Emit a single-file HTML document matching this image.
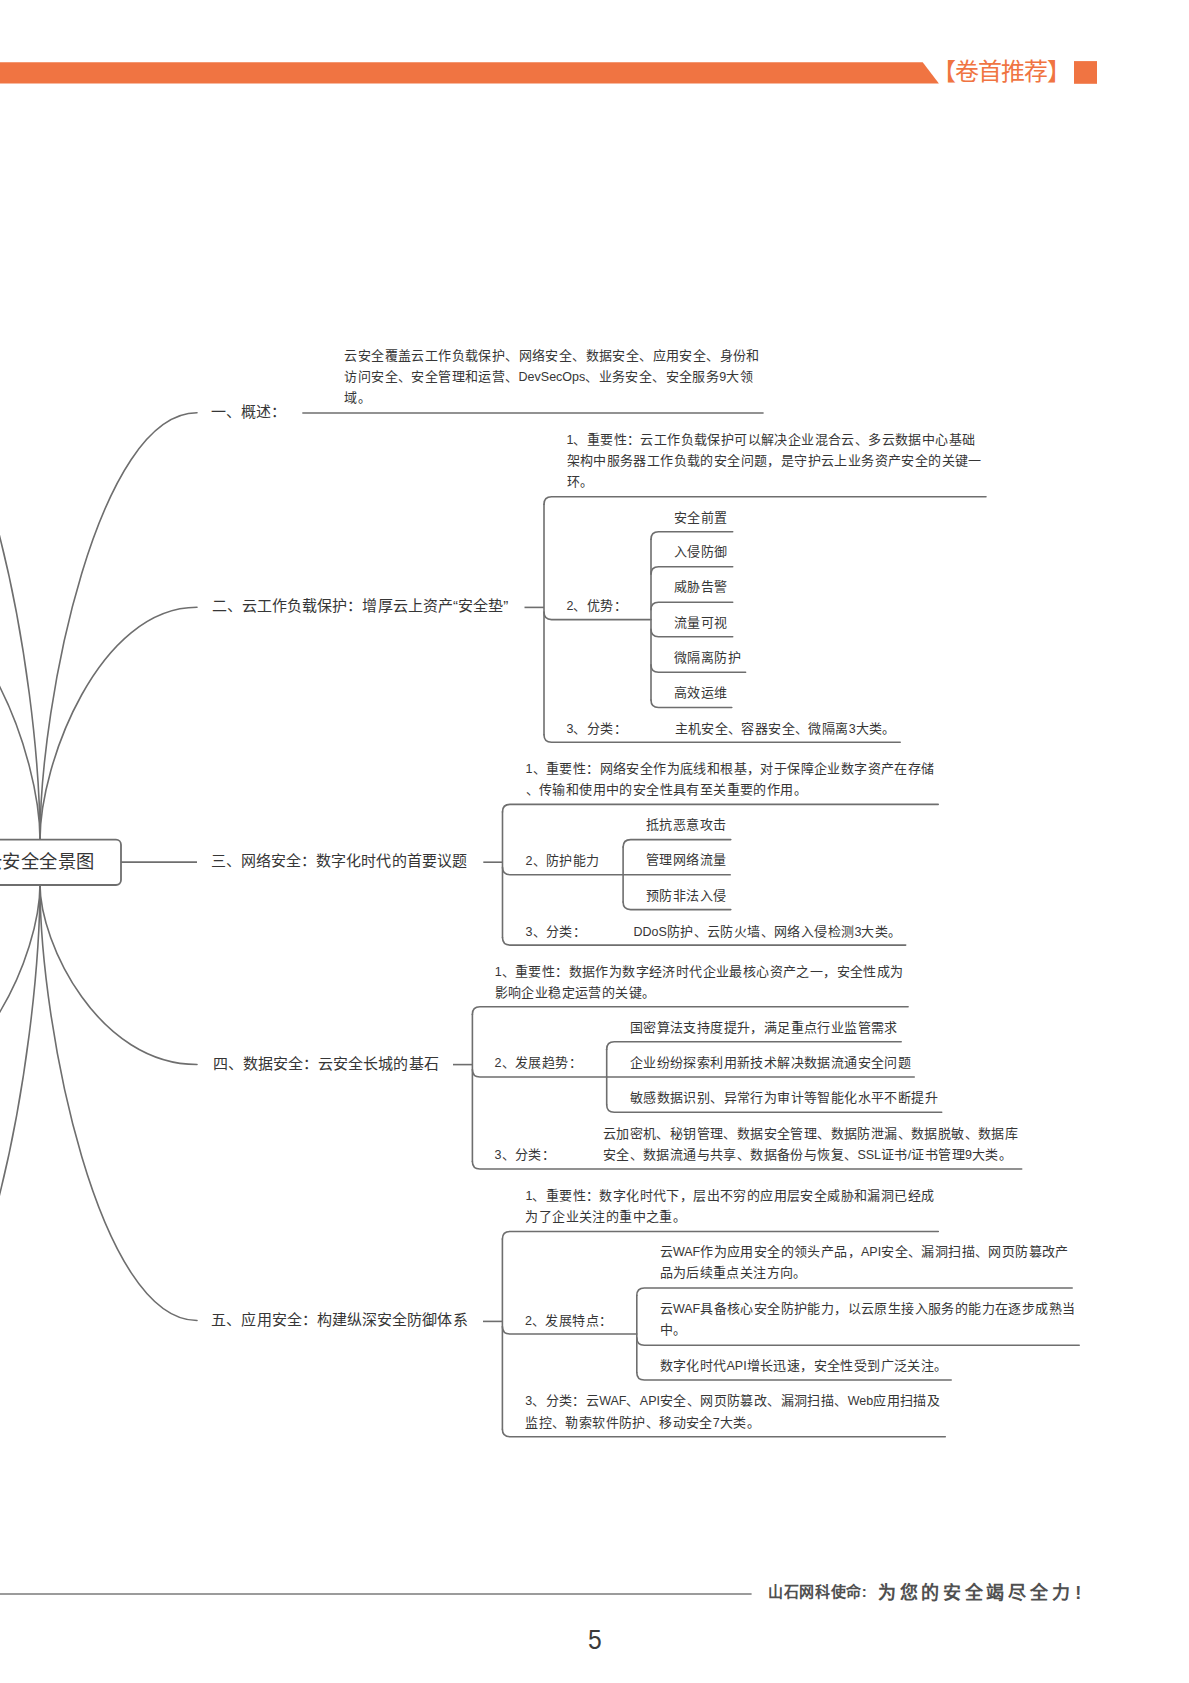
<!DOCTYPE html>
<html lang="zh-CN"><head><meta charset="utf-8"><style>
html,body{margin:0;padding:0;background:#fff;}
body{width:1189px;height:1683px;position:relative;overflow:hidden;font-family:"Liberation Sans",sans-serif;-webkit-font-smoothing:antialiased;}
svg{position:absolute;left:0;top:0;}
.t{position:absolute;white-space:nowrap;line-height:1;font-weight:500}
.l{font-size:12.5px;letter-spacing:0}
</style></head><body>
<svg width="1189" height="1683" viewBox="0 0 1189 1683">

<path d="M40,839.7 C40.0,698.8 98.9,412.8 197,412.8" fill="none" stroke="#6e6e6e" stroke-width="1.6" stroke-linecap="round" stroke-linejoin="round"/>
<path d="M40,839.7 C40.0,763.0 98.9,607.3 197,607.3" fill="none" stroke="#6e6e6e" stroke-width="1.6" stroke-linecap="round" stroke-linejoin="round"/>
<path d="M40,884.5 C40.0,943.9 98.9,1064.5 197,1064.5" fill="none" stroke="#6e6e6e" stroke-width="1.6" stroke-linecap="round" stroke-linejoin="round"/>
<path d="M40,884.5 C40.0,1028.4 98.9,1320.5 197,1320.5" fill="none" stroke="#6e6e6e" stroke-width="1.6" stroke-linecap="round" stroke-linejoin="round"/>
<path d="M40,839.7 C40.0,676.4 -18.9,345.0 -117,345" fill="none" stroke="#6e6e6e" stroke-width="1.6" stroke-linecap="round" stroke-linejoin="round"/>
<path d="M40,839.7 C40.0,757.3 -18.9,590.0 -117,590" fill="none" stroke="#6e6e6e" stroke-width="1.6" stroke-linecap="round" stroke-linejoin="round"/>
<path d="M40,884.5 C40.0,953.3 -18.9,1093.0 -117,1093" fill="none" stroke="#6e6e6e" stroke-width="1.6" stroke-linecap="round" stroke-linejoin="round"/>
<path d="M40,884.5 C40.0,1051.3 -18.9,1390.0 -117,1390" fill="none" stroke="#6e6e6e" stroke-width="1.6" stroke-linecap="round" stroke-linejoin="round"/>
<line x1="302.3" y1="413" x2="763.6" y2="413" stroke="#6e6e6e" stroke-width="1.6"/>
<line x1="524.5" y1="607.4" x2="544" y2="607.4" stroke="#6e6e6e" stroke-width="1.6"/>
<path d="M544,504.3 L544,734.7" fill="none" stroke="#6e6e6e" stroke-width="1.6" stroke-linecap="round" stroke-linejoin="round"/>
<path d="M544,504.3 Q544,496.8 551.5,496.8 L986,496.8" fill="none" stroke="#6e6e6e" stroke-width="1.6" stroke-linecap="round" stroke-linejoin="round"/>
<path d="M544,612.1 Q544,619.6 551.5,619.6 L651,619.6" fill="none" stroke="#6e6e6e" stroke-width="1.6" stroke-linecap="round" stroke-linejoin="round"/>
<path d="M544,734.7 Q544,742.2 551.5,742.2 L900.2,742.2" fill="none" stroke="#6e6e6e" stroke-width="1.6" stroke-linecap="round" stroke-linejoin="round"/>
<path d="M651,539.2 L651,700.0" fill="none" stroke="#6e6e6e" stroke-width="1.6" stroke-linecap="round" stroke-linejoin="round"/>
<path d="M651,539.2 Q651,531.7 658.5,531.7 L732.7,531.7" fill="none" stroke="#6e6e6e" stroke-width="1.6" stroke-linecap="round" stroke-linejoin="round"/>
<path d="M651,574.3 Q651,566.8 658.5,566.8 L732.7,566.8" fill="none" stroke="#6e6e6e" stroke-width="1.6" stroke-linecap="round" stroke-linejoin="round"/>
<path d="M651,609.7 Q651,602.2 658.5,602.2 L732.7,602.2" fill="none" stroke="#6e6e6e" stroke-width="1.6" stroke-linecap="round" stroke-linejoin="round"/>
<path d="M651,629.3 Q651,636.8 658.5,636.8 L732.7,636.8" fill="none" stroke="#6e6e6e" stroke-width="1.6" stroke-linecap="round" stroke-linejoin="round"/>
<path d="M651,664.8 Q651,672.3 658.5,672.3 L745.6,672.3" fill="none" stroke="#6e6e6e" stroke-width="1.6" stroke-linecap="round" stroke-linejoin="round"/>
<path d="M651,700.0 Q651,707.5 658.5,707.5 L731.8,707.5" fill="none" stroke="#6e6e6e" stroke-width="1.6" stroke-linecap="round" stroke-linejoin="round"/>
<line x1="121" y1="862.1" x2="197" y2="862.1" stroke="#6e6e6e" stroke-width="1.6"/>
<line x1="483.3" y1="862.2" x2="502.5" y2="862.2" stroke="#6e6e6e" stroke-width="1.6"/>
<path d="M502.5,811.9 L502.5,937.6" fill="none" stroke="#6e6e6e" stroke-width="1.6" stroke-linecap="round" stroke-linejoin="round"/>
<path d="M502.5,811.9 Q502.5,804.4 510.0,804.4 L938.2,804.4" fill="none" stroke="#6e6e6e" stroke-width="1.6" stroke-linecap="round" stroke-linejoin="round"/>
<path d="M502.5,867.2 Q502.5,874.7 510.0,874.7 L623.1,874.7" fill="none" stroke="#6e6e6e" stroke-width="1.6" stroke-linecap="round" stroke-linejoin="round"/>
<path d="M502.5,937.6 Q502.5,945.1 510.0,945.1 L905.7,945.1" fill="none" stroke="#6e6e6e" stroke-width="1.6" stroke-linecap="round" stroke-linejoin="round"/>
<path d="M623.1,847.1 L623.1,902.1" fill="none" stroke="#6e6e6e" stroke-width="1.6" stroke-linecap="round" stroke-linejoin="round"/>
<path d="M623.1,847.1 Q623.1,839.6 630.6,839.6 L730.8,839.6" fill="none" stroke="#6e6e6e" stroke-width="1.6" stroke-linecap="round" stroke-linejoin="round"/>
<line x1="623.1" y1="874.7" x2="730.8" y2="874.7" stroke="#6e6e6e" stroke-width="1.6"/>
<path d="M623.1,902.1 Q623.1,909.6 630.6,909.6 L730.8,909.6" fill="none" stroke="#6e6e6e" stroke-width="1.6" stroke-linecap="round" stroke-linejoin="round"/>
<line x1="453" y1="1064.6" x2="472.4" y2="1064.6" stroke="#6e6e6e" stroke-width="1.6"/>
<path d="M472.4,1014.3 L472.4,1161.5" fill="none" stroke="#6e6e6e" stroke-width="1.6" stroke-linecap="round" stroke-linejoin="round"/>
<path d="M472.4,1014.3 Q472.4,1006.8 479.9,1006.8 L908.1,1006.8" fill="none" stroke="#6e6e6e" stroke-width="1.6" stroke-linecap="round" stroke-linejoin="round"/>
<path d="M472.4,1069.5 Q472.4,1077 479.9,1077 L606.7,1077" fill="none" stroke="#6e6e6e" stroke-width="1.6" stroke-linecap="round" stroke-linejoin="round"/>
<path d="M472.4,1161.5 Q472.4,1169 479.9,1169 L1021.7,1169" fill="none" stroke="#6e6e6e" stroke-width="1.6" stroke-linecap="round" stroke-linejoin="round"/>
<path d="M606.7,1049.3 L606.7,1104.7" fill="none" stroke="#6e6e6e" stroke-width="1.6" stroke-linecap="round" stroke-linejoin="round"/>
<path d="M606.7,1049.3 Q606.7,1041.8 614.2,1041.8 L901.2,1041.8" fill="none" stroke="#6e6e6e" stroke-width="1.6" stroke-linecap="round" stroke-linejoin="round"/>
<line x1="606.7" y1="1077" x2="914.8" y2="1077" stroke="#6e6e6e" stroke-width="1.6"/>
<path d="M606.7,1104.7 Q606.7,1112.2 614.2,1112.2 L941.7,1112.2" fill="none" stroke="#6e6e6e" stroke-width="1.6" stroke-linecap="round" stroke-linejoin="round"/>
<line x1="483" y1="1321.4" x2="502.4" y2="1321.4" stroke="#6e6e6e" stroke-width="1.6"/>
<path d="M502.4,1239.0 L502.4,1429.3" fill="none" stroke="#6e6e6e" stroke-width="1.6" stroke-linecap="round" stroke-linejoin="round"/>
<path d="M502.4,1239.0 Q502.4,1231.5 509.9,1231.5 L938.3,1231.5" fill="none" stroke="#6e6e6e" stroke-width="1.6" stroke-linecap="round" stroke-linejoin="round"/>
<path d="M502.4,1326.5 Q502.4,1334 509.9,1334 L636.8,1334" fill="none" stroke="#6e6e6e" stroke-width="1.6" stroke-linecap="round" stroke-linejoin="round"/>
<path d="M502.4,1429.3 Q502.4,1436.8 509.9,1436.8 L945.3,1436.8" fill="none" stroke="#6e6e6e" stroke-width="1.6" stroke-linecap="round" stroke-linejoin="round"/>
<path d="M636.8,1295.5 L636.8,1372.5" fill="none" stroke="#6e6e6e" stroke-width="1.6" stroke-linecap="round" stroke-linejoin="round"/>
<path d="M636.8,1295.5 Q636.8,1288 644.3,1288 L1072.2,1288" fill="none" stroke="#6e6e6e" stroke-width="1.6" stroke-linecap="round" stroke-linejoin="round"/>
<path d="M636.8,1337.7 Q636.8,1345.2 644.3,1345.2 L1079.2,1345.2" fill="none" stroke="#6e6e6e" stroke-width="1.6" stroke-linecap="round" stroke-linejoin="round"/>
<path d="M636.8,1372.5 Q636.8,1380 644.3,1380 L951.2,1380" fill="none" stroke="#6e6e6e" stroke-width="1.6" stroke-linecap="round" stroke-linejoin="round"/>
<rect x="-60" y="839.7" width="181" height="45.3" rx="5" ry="5" fill="#fff" stroke="#6e6e6e" stroke-width="1.8"/>
<line x1="0" y1="1594" x2="751.6" y2="1594" stroke="#7a7a7a" stroke-width="1.6"/>
<polygon points="0,62.2 922.7,62.2 938.9,83.6 0,83.6" fill="#F07442"/>
<rect x="1074" y="61.1" width="23" height="22.7" fill="#F07442"/>
</svg>

<div class="t" style="left:210.8px;top:403.8px;font-size:15px;color:#363636;font-weight:500;letter-spacing:0.08px;">一、概述：</div>
<div class="t" style="left:344.4px;top:348.7px;font-size:13px;color:#363636;font-weight:500;letter-spacing:0.4px;">云安全覆盖云工作负载保护、网络安全、数据安全、应用安全、身份和</div>
<div class="t" style="left:344.4px;top:369.8px;font-size:13px;color:#363636;font-weight:500;letter-spacing:0.4px;">访问安全、安全管理和运营、<span class="l">DevSecOps</span>、业务安全、安全服务<span class="l">9</span>大领</div>
<div class="t" style="left:344.4px;top:390.9px;font-size:13px;color:#363636;font-weight:500;letter-spacing:0.4px;">域。</div>
<div class="t" style="left:211.7px;top:597.8px;font-size:15px;color:#363636;font-weight:500;letter-spacing:0.08px;">二、云工作负载保护：增厚云上资产“安全垫”</div>
<div class="t" style="left:566.5px;top:432.5px;font-size:13px;color:#363636;font-weight:500;letter-spacing:0.4px;"><span class="l">1</span>、重要性：云工作负载保护可以解决企业混合云、多云数据中心基础</div>
<div class="t" style="left:566.5px;top:453.6px;font-size:13px;color:#363636;font-weight:500;letter-spacing:0.4px;">架构中服务器工作负载的安全问题，是守护云上业务资产安全的关键一</div>
<div class="t" style="left:566.5px;top:474.6px;font-size:13px;color:#363636;font-weight:500;letter-spacing:0.4px;">环。</div>
<div class="t" style="left:566.5px;top:599.0px;font-size:13px;color:#363636;font-weight:500;letter-spacing:0.4px;"><span class="l">2</span>、优势：</div>
<div class="t" style="left:674.0px;top:511.0px;font-size:13px;color:#363636;font-weight:500;letter-spacing:0.4px;">安全前置</div>
<div class="t" style="left:674.0px;top:545.2px;font-size:13px;color:#363636;font-weight:500;letter-spacing:0.4px;">入侵防御</div>
<div class="t" style="left:674.0px;top:580.1px;font-size:13px;color:#363636;font-weight:500;letter-spacing:0.4px;">威胁告警</div>
<div class="t" style="left:674.0px;top:615.6px;font-size:13px;color:#363636;font-weight:500;letter-spacing:0.4px;">流量可视</div>
<div class="t" style="left:674.0px;top:650.9px;font-size:13px;color:#363636;font-weight:500;letter-spacing:0.4px;">微隔离防护</div>
<div class="t" style="left:674.0px;top:686.0px;font-size:13px;color:#363636;font-weight:500;letter-spacing:0.4px;">高效运维</div>
<div class="t" style="left:566.5px;top:721.7px;font-size:13px;color:#363636;font-weight:500;letter-spacing:0.4px;"><span class="l">3</span>、分类：</div>
<div class="t" style="left:674.5px;top:721.7px;font-size:13px;color:#363636;font-weight:500;letter-spacing:0.4px;">主机安全、容器安全、微隔离<span class="l">3</span>大类。</div>
<div class="t" style="left:210.6px;top:852.6px;font-size:15px;color:#363636;font-weight:500;letter-spacing:0.08px;">三、网络安全：数字化时代的首要议题</div>
<div class="t" style="left:525.6px;top:761.7px;font-size:13px;color:#363636;font-weight:500;letter-spacing:0.4px;"><span class="l">1</span>、重要性：网络安全作为底线和根基，对于保障企业数字资产在存储</div>
<div class="t" style="left:525.6px;top:783.1px;font-size:13px;color:#363636;font-weight:500;letter-spacing:0.4px;">、传输和使用中的安全性具有至关重要的作用。</div>
<div class="t" style="left:525.6px;top:853.9px;font-size:13px;color:#363636;font-weight:500;letter-spacing:0.4px;"><span class="l">2</span>、防护能力</div>
<div class="t" style="left:646.0px;top:818.3px;font-size:13px;color:#363636;font-weight:500;letter-spacing:0.4px;">抵抗恶意攻击</div>
<div class="t" style="left:646.0px;top:853.4px;font-size:13px;color:#363636;font-weight:500;letter-spacing:0.4px;">管理网络流量</div>
<div class="t" style="left:646.0px;top:888.9px;font-size:13px;color:#363636;font-weight:500;letter-spacing:0.4px;">预防非法入侵</div>
<div class="t" style="left:525.6px;top:924.9px;font-size:13px;color:#363636;font-weight:500;letter-spacing:0.4px;"><span class="l">3</span>、分类：</div>
<div class="t" style="left:633.5px;top:924.7px;font-size:13px;color:#363636;font-weight:500;letter-spacing:0.4px;"><span class="l">DDoS</span>防护、云防火墙、网络入侵检测<span class="l">3</span>大类。</div>
<div class="t" style="left:212.5px;top:1055.6px;font-size:15px;color:#363636;font-weight:500;letter-spacing:0.08px;">四、数据安全：云安全长城的基石</div>
<div class="t" style="left:494.7px;top:965.0px;font-size:13px;color:#363636;font-weight:500;letter-spacing:0.4px;"><span class="l">1</span>、重要性：数据作为数字经济时代企业最核心资产之一，安全性成为</div>
<div class="t" style="left:494.7px;top:985.5px;font-size:13px;color:#363636;font-weight:500;letter-spacing:0.4px;">影响企业稳定运营的关键。</div>
<div class="t" style="left:494.6px;top:1055.7px;font-size:13px;color:#363636;font-weight:500;letter-spacing:0.4px;"><span class="l">2</span>、发展趋势：</div>
<div class="t" style="left:629.9px;top:1020.8px;font-size:13px;color:#363636;font-weight:500;letter-spacing:0.4px;">国密算法支持度提升，满足重点行业监管需求</div>
<div class="t" style="left:629.9px;top:1055.7px;font-size:13px;color:#363636;font-weight:500;letter-spacing:0.4px;">企业纷纷探索利用新技术解决数据流通安全问题</div>
<div class="t" style="left:629.9px;top:1090.8px;font-size:13px;color:#363636;font-weight:500;letter-spacing:0.4px;">敏感数据识别、异常行为审计等智能化水平不断提升</div>
<div class="t" style="left:494.6px;top:1148.0px;font-size:13px;color:#363636;font-weight:500;letter-spacing:0.4px;"><span class="l">3</span>、分类：</div>
<div class="t" style="left:602.8px;top:1127.1px;font-size:13px;color:#363636;font-weight:500;letter-spacing:0.4px;">云加密机、秘钥管理、数据安全管理、数据防泄漏、数据脱敏、数据库</div>
<div class="t" style="left:602.8px;top:1148.3px;font-size:13px;color:#363636;font-weight:500;letter-spacing:0.4px;">安全、数据流通与共享、数据备份与恢复、<span class="l">SSL</span>证书<span class="l">/</span>证书管理<span class="l">9</span>大类。</div>
<div class="t" style="left:211.3px;top:1312.2px;font-size:15px;color:#363636;font-weight:500;letter-spacing:0.08px;">五、应用安全：构建纵深安全防御体系</div>
<div class="t" style="left:525.4px;top:1188.7px;font-size:13px;color:#363636;font-weight:500;letter-spacing:0.4px;"><span class="l">1</span>、重要性：数字化时代下，层出不穷的应用层安全威胁和漏洞已经成</div>
<div class="t" style="left:525.4px;top:1210.3px;font-size:13px;color:#363636;font-weight:500;letter-spacing:0.4px;">为了企业关注的重中之重。</div>
<div class="t" style="left:525.0px;top:1313.5px;font-size:13px;color:#363636;font-weight:500;letter-spacing:0.4px;"><span class="l">2</span>、发展特点：</div>
<div class="t" style="left:659.5px;top:1245.2px;font-size:13px;color:#363636;font-weight:500;letter-spacing:0.4px;">云<span class="l">WAF</span>作为应用安全的领头产品，<span class="l">API</span>安全、漏洞扫描、网页防篡改产</div>
<div class="t" style="left:659.5px;top:1265.5px;font-size:13px;color:#363636;font-weight:500;letter-spacing:0.4px;">品为后续重点关注方向。</div>
<div class="t" style="left:659.5px;top:1302.0px;font-size:13px;color:#363636;font-weight:500;letter-spacing:0.4px;">云<span class="l">WAF</span>具备核心安全防护能力，以云原生接入服务的能力在逐步成熟当</div>
<div class="t" style="left:659.5px;top:1323.1px;font-size:13px;color:#363636;font-weight:500;letter-spacing:0.4px;">中。</div>
<div class="t" style="left:659.5px;top:1359.1px;font-size:13px;color:#363636;font-weight:500;letter-spacing:0.4px;">数字化时代<span class="l">API</span>增长迅速，安全性受到广泛关注。</div>
<div class="t" style="left:525.2px;top:1394.3px;font-size:13px;color:#363636;font-weight:500;letter-spacing:0.4px;"><span class="l">3</span>、分类：云<span class="l">WAF</span>、<span class="l">API</span>安全、网页防篡改、漏洞扫描、<span class="l">Web</span>应用扫描及</div>
<div class="t" style="left:525.2px;top:1415.7px;font-size:13px;color:#363636;font-weight:500;letter-spacing:0.4px;">监控、勒索软件防护、移动安全<span class="l">7</span>大类。</div>
<div class="t" style="left:-16.0px;top:853.0px;font-size:18.3px;color:#363636;font-weight:500;letter-spacing:0.4px;">云安全全景图</div>

<div class="t" style="left:932.3px;top:59.7px;font-size:24px;letter-spacing:-1px;color:#F07442">【卷首推荐】</div>
<div class="t" style="left:768.2px;top:1583.8px;font-size:15px;letter-spacing:0.6px;color:#505050;font-weight:bold">山石网科使命<span style="font-family:'Liberation Sans';letter-spacing:0">:</span></div>
<div class="t" style="left:878px;top:1584px;font-size:18px;color:#505050;font-weight:bold;letter-spacing:3.7px">为您的安全竭尽全力<span style="font-family:'Liberation Sans';font-weight:bold;margin-left:2px">!</span></div>
<div class="t" style="left:588.2px;top:1626px;font-size:28px;color:#3a3a3a;transform:scaleX(0.88);transform-origin:0 0">5</div>
</body></html>
